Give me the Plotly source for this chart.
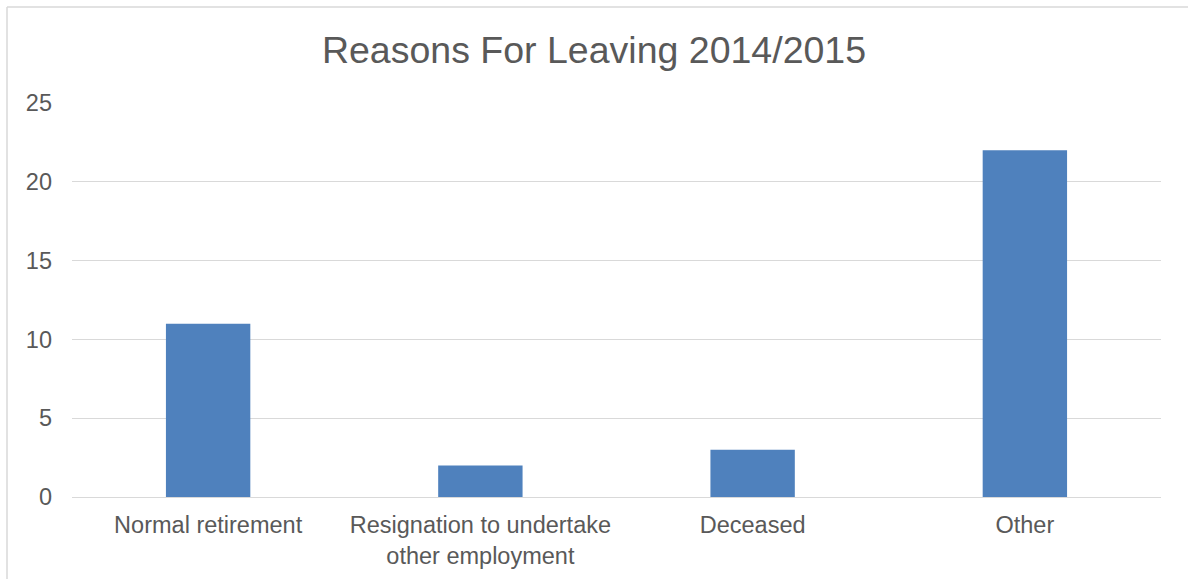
import plotly.graph_objects as go

categories = ["Normal retirement", "Resignation to undertake<br>other employment", "Deceased", "Other"]
values = [11, 2, 3, 22]
y_ticks = [0, 5, 10, 15, 20, 25]

W, H = 1188, 579
L, R, T, B = 72, 27, 103, 82
pw, ph = W - L - R, H - T - B

def px_x(p):
    return (p - L) / pw

def px_y(p):
    return (H - B - p) / ph

fig = go.Figure(go.Bar(x=categories, y=values, marker=dict(color="#4F81BD", line=dict(width=0)), width=0.31))

fig.update_layout(
    width=W, height=H,
    margin=dict(l=L, r=R, t=T, b=B),
    paper_bgcolor="white", plot_bgcolor="white",
    font=dict(family="Liberation Sans, Arial, sans-serif", color="#595959", size=23.5),
    title=dict(text="Reasons For Leaving 2014/2015", x=0.5, xanchor="center",
               y=1 - 50 / H, yanchor="middle", yref="container",
               font=dict(size=37.5, color="#595959")),
    showlegend=False,
    xaxis=dict(showgrid=False, showline=True, linecolor="#d9d9d9", linewidth=1, automargin=False,
               ticks="", tickfont=dict(size=23.5, color="#595959"), ticklabelstandoff=7),
    yaxis=dict(range=[0, 25], tickvals=y_ticks, showgrid=True, gridcolor="#d9d9d9", gridwidth=1,
               automargin=False,
               zeroline=False, showline=False, ticks="", tickfont=dict(size=23.5, color="#595959"),
               ticklabelstandoff=19),
    shapes=[
        dict(type="line", xref="paper", yref="paper", x0=px_x(7), x1=px_x(1200), y0=px_y(7), y1=px_y(7),
             line=dict(color="#d9d9d9", width=1.5)),
        dict(type="line", xref="paper", yref="paper", x0=px_x(7), x1=px_x(7), y0=px_y(7), y1=px_y(600),
             line=dict(color="#d9d9d9", width=1.5)),
    ],
)

fig.write_html("out.html")
